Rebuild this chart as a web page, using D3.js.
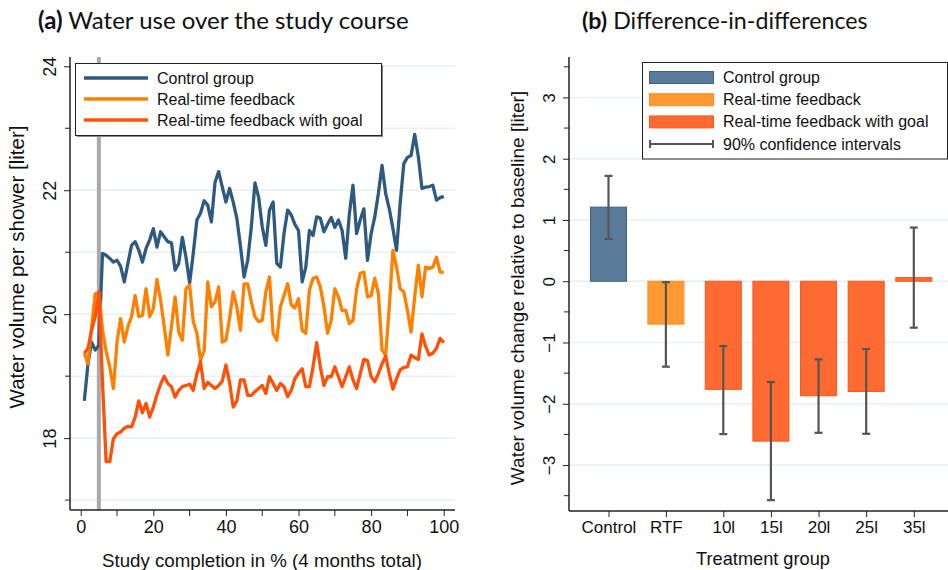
<!DOCTYPE html>
<html><head><meta charset="utf-8">
<script src="https://cdn.jsdelivr.net/npm/d3@7"></script>
<style>
body{margin:0;background:#fff}
svg{display:block}
text{font-family:"Liberation Sans",Arial,sans-serif;fill:#111}
.ttl{font-family:Lato,"Open Sans",sans-serif}
</style>
</head><body><svg id="c" width="948" height="570"></svg>
<script>
// ---- Panel (a): water use per shower over the study course ----
const completion = d3.range(1, 101); // % of study completed
const controlUse = [18.6,19.2,19.55,19.42,19.5,20.98,20.95,20.9,20.84,20.87,
  20.77,20.52,20.82,21.11,21.17,21.03,20.84,21.06,21.2,21.38,
  21.08,21.33,21.25,21.17,21.15,20.71,20.82,21.24,20.92,20.5,
  20.98,21.52,21.63,21.83,21.76,21.49,22.13,22.3,22.05,21.81,
  22.03,21.81,21.55,21.1,20.6,20.87,21.41,22.12,21.89,21.41,
  21.11,21.68,21.81,20.82,20.76,21.3,21.68,21.6,21.45,21.35,
  20.52,20.76,21.35,21.27,21.57,21.55,21.33,21.45,21.56,21.4,
  21.52,21.35,20.9,21.62,22.08,21.3,21.52,21.7,20.87,21.3,
  21.57,21.95,22.4,21.95,21.7,21.38,21.03,21.79,22.43,22.53,
  22.56,22.9,22.54,22.03,22.05,22.06,22.08,21.84,21.88,21.9];
const rtfUse = [19.37,19.2,19.8,20.33,20.35,19.75,19.4,19.15,18.8,19.55,
  19.93,19.55,19.8,19.96,20.3,19.96,19.98,20.41,19.96,20.09,
  20.56,20.23,19.8,19.34,19.8,20.28,19.71,19.58,20.41,20.47,
  19.88,19.69,19.26,19.41,20.52,20.12,20.2,20.44,19.55,19.58,
  19.93,20.36,20.12,19.74,20.49,20.49,20.2,19.96,19.88,19.9,
  20.36,20.6,19.69,19.58,20.12,20.3,20.49,20.15,20.1,20.25,
  19.74,19.69,20.39,20.58,20.6,20.44,20.12,19.69,19.9,20.41,
  20.28,20.06,20.06,19.85,19.9,20.4,20.66,20.68,20.28,20.3,
  20.58,20.33,19.42,19.34,20.12,21.03,20.76,20.41,20.36,20.06,
  19.71,20.28,20.79,20.28,20.76,20.74,20.76,20.92,20.68,20.68];
const goalUse = [19.37,19.45,19.74,19.96,20.36,18.9,17.62,17.62,17.99,18.07,
  18.1,18.16,18.19,18.18,18.34,18.6,18.41,18.56,18.34,18.5,
  18.7,18.87,19.0,18.88,18.83,18.66,18.77,18.83,18.85,18.87,
  18.77,19.04,19.23,18.8,18.9,18.85,18.8,18.85,18.92,19.18,
  18.9,18.5,18.6,18.94,18.94,18.69,18.69,18.75,18.8,18.85,
  18.72,18.99,18.88,18.77,18.88,18.83,18.67,18.77,18.96,19.05,
  19.12,18.83,18.83,19.15,19.54,19.15,18.85,18.99,18.99,19.15,
  18.99,18.83,18.99,19.15,18.94,18.8,19.04,19.27,19.25,18.99,
  18.91,19.04,19.2,19.32,19.04,18.79,18.96,19.1,19.14,19.15,
  19.34,19.3,19.27,19.68,19.48,19.34,19.37,19.45,19.61,19.54];
const interventionStart = 5;
const seriesNames = ["Control group", "Real-time feedback", "Real-time feedback with goal"];
const leftYTicks = [18, 20, 22, 24];
const leftYMinor = [17, 19, 21, 23];
const leftXTicks = [0, 20, 40, 60, 80, 100];
const leftXMinor = [10, 30, 50, 70, 90];

// ---- Panel (b): difference-in-differences estimates ----
const groups = ["Control", "RTF", "10l", "15l", "20l", "25l", "35l"];
const groupKind = [0, 1, 2, 2, 2, 2, 2];
const effect = [1.21, -0.70, -1.765, -2.61, -1.87, -1.80, 0.06];
const ciLow  = [0.69, -1.395, -2.495, -3.573, -2.474, -2.49, -0.758];
const ciHigh = [1.72, -0.015, -1.057, -1.645, -1.275, -1.106, 0.876];
const rightYTicks = [-3, -2, -1, 0, 1, 2, 3];
const rightYMinor = [-3.5, -2.5, -1.5, -0.5, 0.5, 1.5, 2.5, 3.5];
const barLegend = ["Control group", "Real-time feedback", "Real-time feedback with goal", "90% confidence intervals"];

const lineColors = ["#2e5a80", "#ff8000", "#ff5008"];
const barFill = ["#5a7a99", "#ff9a33", "#ff6a33"];
const barStroke = ["#3f6284", "#ff8c1e", "#ff561a"];
const gridColor = "#e9eff2";
const axisColor = "#222";
const ciColor = "#555";

const svg = d3.select("#c");

// ================= Panel (a) =================
const xA = d3.scaleLinear().domain([-2.95, 103.1]).range([70, 455]);
const yA = d3.scaleLinear().domain([16.84, 24.15]).range([510, 57]);
const gA = svg.append("g");

gA.append("g").selectAll("line").data(leftYTicks.concat(leftYMinor)).join("line")
  .attr("x1", 70).attr("x2", 455)
  .attr("y1", d => yA(d)).attr("y2", d => yA(d))
  .attr("stroke", gridColor).attr("stroke-width", 1.5);

gA.append("line")
  .attr("x1", xA(interventionStart)).attr("x2", xA(interventionStart))
  .attr("y1", yA.range()[1]).attr("y2", yA.range()[0])
  .attr("stroke", "#a9a9a9").attr("stroke-width", 4);

const lineGen = d3.line().x((d, i) => xA(completion[i])).y(d => yA(d));
[controlUse, rtfUse, goalUse].forEach((s, k) => {
  gA.append("path").datum(s).attr("d", lineGen)
    .attr("fill", "none").attr("stroke", lineColors[k])
    .attr("stroke-width", 3.3).attr("stroke-linejoin", "round").attr("stroke-linecap", "butt");
});

// y axis (a)
const yAxisA = d3.axisLeft(yA).tickValues(leftYTicks).tickSize(6).tickFormat(d3.format("d"));
const yAg = gA.append("g").attr("transform", "translate(70,0)").call(yAxisA);
yAg.append("g").selectAll("line").data(leftYMinor).join("line")
  .attr("x1", 0).attr("x2", -5).attr("y1", d => yA(d)).attr("y2", d => yA(d))
  .attr("stroke", axisColor);
// x axis (a)
const xAxisA = d3.axisBottom(xA).tickValues(leftXTicks).tickSize(6).tickFormat(d3.format("d"));
const xAg = gA.append("g").attr("transform", "translate(0,510)").call(xAxisA);
xAg.append("g").selectAll("line").data(leftXMinor).join("line")
  .attr("x1", d => xA(d)).attr("x2", d => xA(d)).attr("y1", 0).attr("y2", 6)
  .attr("stroke", axisColor);

// ================= Panel (b) =================
const slot = i => i + groupKind[i] * 0.205;
const xB = d3.scaleLinear().domain([0, 6.41]).range([608.5, 913.8]);
const yB = d3.scaleLinear().domain([-3.75, 3.66]).range([511, 57]);
const barW = 36;
const gB = svg.append("g");

gB.append("g").selectAll("line").data(rightYTicks).join("line")
  .attr("x1", 569).attr("x2", 948)
  .attr("y1", d => yB(d)).attr("y2", d => yB(d))
  .attr("stroke", gridColor).attr("stroke-width", 1.5);

gB.append("g").selectAll("rect").data(effect).join("rect")
  .attr("x", (d, i) => xB(slot(i)) - barW / 2)
  .attr("width", barW)
  .attr("y", d => yB(Math.max(0, d)))
  .attr("height", d => Math.abs(yB(d) - yB(0)))
  .attr("fill", (d, i) => barFill[groupKind[i]])
  .attr("stroke", (d, i) => barStroke[groupKind[i]]).attr("stroke-width", 1);

const ci = gB.append("g").attr("stroke", ciColor).attr("stroke-width", 2.2);
groups.forEach((g, i) => {
  const cx = xB(slot(i));
  ci.append("line").attr("x1", cx).attr("x2", cx).attr("y1", yB(ciHigh[i])).attr("y2", yB(ciLow[i]));
  ci.append("line").attr("x1", cx - 4).attr("x2", cx + 4).attr("y1", yB(ciHigh[i])).attr("y2", yB(ciHigh[i]));
  ci.append("line").attr("x1", cx - 4).attr("x2", cx + 4).attr("y1", yB(ciLow[i])).attr("y2", yB(ciLow[i]));
});

const yAxisB = d3.axisLeft(yB).tickValues(rightYTicks).tickSize(6).tickFormat(d3.format("d"));
const yBg = gB.append("g").attr("transform", "translate(569,0)").call(yAxisB);
yBg.append("g").selectAll("line").data(rightYMinor).join("line")
  .attr("x1", 0).attr("x2", -5).attr("y1", d => yB(d)).attr("y2", d => yB(d))
  .attr("stroke", axisColor);

const xAxisB = d3.axisBottom(xB).tickValues(groups.map((g, i) => slot(i))).tickSize(6)
  .tickFormat((d, i) => groups[i]);
const xBg = gB.append("g").attr("transform", "translate(0,511)").call(xAxisB);

// shared axis styling
[yAg, xAg, yBg, xBg].forEach(a => {
  a.selectAll(".domain").attr("stroke", axisColor).attr("stroke-width", 1.5);
  a.selectAll(".tick line").attr("stroke", axisColor);
  a.selectAll("text").attr("fill", "#111")
    .attr("font-family", '"Liberation Sans",Arial,sans-serif');
});
[yAg, xAg].forEach(a => a.selectAll("text").attr("font-size", 18));
[yBg, xBg].forEach(a => a.selectAll("text").attr("font-size", 17));
xAg.select(".domain").attr("d", "M70,0H455");
yAg.select(".domain").attr("d", "M0,57V510");
yBg.select(".domain").attr("d", "M0,57V511");
xBg.select(".domain").attr("d", "M569,0H948");
[xAg, xBg].forEach(a => a.selectAll(".tick text").attr("y", 10).attr("dy", "0.71em"));
// rotated y tick labels
[yAg, yBg].forEach(a => a.selectAll(".tick text")
  .attr("x", null).attr("dy", null).attr("text-anchor", "middle")
  .attr("transform", "translate(-14,0) rotate(-90)").attr("y", 0));

// ---- titles and axis labels ----
function title(x, size, tag, rest) {
  const t = svg.append("text").attr("class", "ttl").attr("x", x).attr("y", 29).attr("font-size", size);
  t.append("tspan").attr("font-weight", "bold").text(tag);
  t.append("tspan").text(" " + rest);
}
title(38, 24, "(a)", "Water use over the study course");
title(582, 23.2, "(b)", "Difference-in-differences");

svg.append("text").attr("x", 262).attr("y", 567).attr("text-anchor", "middle")
  .attr("font-size", 18.7).text("Study completion in % (4 months total)");
svg.append("text").attr("transform", "translate(24,267) rotate(-90)").attr("text-anchor", "middle")
  .attr("font-size", 20.5).text("Water volume per shower [liter]");
svg.append("text").attr("x", 763).attr("y", 565).attr("text-anchor", "middle")
  .attr("font-size", 18.2).text("Treatment group");
svg.append("text").attr("transform", "translate(524,288) rotate(-90)").attr("text-anchor", "middle")
  .attr("font-size", 19).text("Water volume change relative to baseline [liter]");

// ---- legend (a) ----
const legA = svg.append("g");
legA.append("rect").attr("x", 77).attr("y", 65).attr("width", 306).attr("height", 72).attr("fill", "#888");
legA.append("rect").attr("x", 75.5).attr("y", 63.5).attr("width", 306).attr("height", 72)
  .attr("fill", "#fff").attr("stroke", "#222").attr("stroke-width", 1);
seriesNames.forEach((n, k) => {
  const y = 78 + k * 21;
  legA.append("line").attr("x1", 84).attr("x2", 148).attr("y1", y).attr("y2", y)
    .attr("stroke", lineColors[k]).attr("stroke-width", 3.3);
  legA.append("text").attr("x", 157).attr("y", y + 5.5).attr("font-size", 16).text(n);
});

// ---- legend (b) ----
const legB = svg.append("g");
legB.append("rect").attr("x", 642.5).attr("y", 62.5).attr("width", 305).attr("height", 96.5)
  .attr("fill", "#fff").attr("stroke", "#222").attr("stroke-width", 1);
barLegend.forEach((n, k) => {
  const y = 77.5 + k * 22.2;
  if (k < 3) {
    legB.append("rect").attr("x", 649.5).attr("y", y - 6).attr("width", 64).attr("height", 12)
      .attr("fill", barFill[k]).attr("stroke", barStroke[k]);
  } else {
    const l = legB.append("g").attr("stroke", ciColor).attr("stroke-width", 2);
    l.append("line").attr("x1", 650).attr("x2", 713).attr("y1", y).attr("y2", y);
    l.append("line").attr("x1", 650).attr("x2", 650).attr("y1", y - 4).attr("y2", y + 4);
    l.append("line").attr("x1", 713).attr("x2", 713).attr("y1", y - 4).attr("y2", y + 4);
  }
  legB.append("text").attr("x", 723).attr("y", y + 5.5).attr("font-size", 16).text(n);
});
</script>
</body></html>
